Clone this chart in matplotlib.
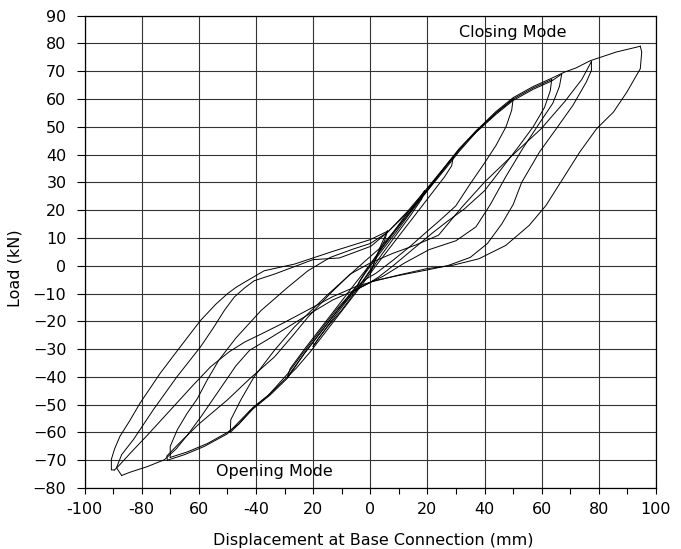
import numpy as np
import matplotlib
matplotlib.use("Agg")
import matplotlib.pyplot as plt

# hysteresis branches, (displacement mm, load kN)
# loading branches: negative peak -> positive peak
up_1 = [(0, -3), (2, 3), (4, 8), (6, 12.5)]
up_2 = [(-5, -9), (-4, -6), (-1, -1), (3, 5), (8, 12), (13, 19), (17, 24), (19, 27)]
up_3 = [(-20, -29), (-18, -26), (-13, -19), (-7, -11), (-2, -3), (3, 4), (9, 12),
        (14, 19), (20, 27), (25, 34), (28, 38), (29, 39)]
up_4 = [(-29, -40), (-28, -37), (-23, -30), (-17, -22), (-11, -14), (-5, -6),
        (0, 0.5), (5, 7.5), (11, 15.5), (17, 23.5), (23, 31.5), (28, 38), (33, 44),
        (38, 49), (44, 55), (50, 60)]
up_5 = [(-49, -60), (-48.8, -55.4), (-45.3, -48.3), (-40.6, -39.9), (-33.5, -30.4),
        (-26.5, -22), (-21.8, -17.3), (-15, -10.5), (-8, -4), (-2, 1.5), (3, 6),
        (8, 12), (14, 19.5), (20, 27.5), (26, 35), (31, 41.5), (37, 48.5),
        (44, 55), (50, 60), (57, 64), (63.5, 67)]
up_6 = [(-70, -69), (-70, -65), (-67.5, -59), (-64, -53), (-60.6, -48),
        (-57, -41), (-53, -34), (-47, -26), (-38.2, -16.1), (-28.8, -7.7),
        (-21.8, -1.8), (-14, 3), (-6, 6), (0, 8), (6, 12), (13, 19), (20, 27),
        (26, 34.5), (31, 41), (37, 48), (44, 54.5), (50, 59.5), (57, 63.5),
        (63.5, 66.5), (67, 69)]
up_7 = [(-71, -70), (-71.2, -68.5), (-66, -63), (-60, -57), (-50, -48.3),
        (-42, -40.5), (-33.5, -32.8), (-27, -25), (-21.8, -18.5), (-14, -10),
        (-7, -3), (0, 1), (8, 4.5), (16, 7.5), (23.9, 11), (32, 21), (40, 30.1),
        (50, 40), (59.8, 49.3), (68, 59), (74, 67), (77.4, 73.5)]
up_8 = [(-87, -75.5), (-88.8, -72.7), (-87, -68), (-82.9, -62.6), (-75.9, -51.8),
        (-67.6, -39.9), (-59.4, -29.2), (-55, -22.5), (-51, -16), (-47.6, -11.3),
        (-44, -8), (-40.6, -5.4), (-33.5, -3), (-20, 2.2), (-10.8, 2.8), (0.2, 7),
        (6, 12), (13, 19.5), (20, 28), (26, 35.5), (31, 42), (37, 48.5),
        (44, 55.5), (50, 60.5), (57, 64.5), (63.5, 67.5), (68, 69.7), (72, 71.2),
        (77, 73.8), (86, 76.9), (94.5, 79)]
up_9 = [(-89.5, -73.5), (-90.6, -73.5), (-90.6, -69.7), (-89.5, -66),
        (-87.6, -61.4), (-84, -55.5), (-80.6, -49.5), (-73.5, -38.7),
        (-66.5, -29.2), (-59.4, -19.7), (-54, -13.8), (-50, -10.1), (-47, -7.8),
        (-44.1, -6), (-37.1, -1.8), (-26.5, 0.6), (-13, 5.2), (0, 9.4), (6, 12.4)]

# unloading branches: positive peak -> negative peak
down_1 = [(6, 12.5), (5, 9), (3, 5), (1, 0), (-1, -3), (-3, -6), (-5, -9)]
down_2 = [(19, 27), (18, 24), (14, 18), (9, 11), (4, 4), (0, -2), (-5, -9),
          (-10, -16), (-15, -22), (-18, -26), (-20, -29)]
down_3 = [(29, 39), (28.5, 36), (26, 32), (20, 24), (14, 16), (8, 8), (2, 0),
          (-3, -7), (-9, -15), (-15, -23), (-21, -31), (-26, -37), (-29, -40)]
down_4 = [(50, 60), (49.5, 56), (47.5, 50), (44, 43.3), (40, 37), (35, 29.5),
          (29.9, 21.5), (24, 16), (20.6, 13), (14, 7), (8, 2), (2, -2.7), (-1, -4.5),
          (-5, -7.5), (-11, -15.5), (-17, -23.5), (-23, -31.5), (-29, -40),
          (-35, -46), (-41, -51), (-46, -57), (-49, -60)]
down_5 = [(63.5, 67), (63, 63), (61, 57), (57, 50), (52, 43), (46, 35), (40, 27),
          (33, 20.5), (27, 16), (22, 12), (15, 6), (8, 0), (3, -4), (0, -6),
          (-5, -8.5), (-11, -15.5), (-17, -23.5), (-23, -31.5), (-29, -40.5),
          (-35, -46.5), (-41, -51.5), (-46, -57), (-50, -60), (-57, -64),
          (-64, -67), (-70, -69)]
down_6 = [(67, 69), (66.2, 64.5), (63.9, 58.5), (59.2, 51.3), (53.3, 42.1),
          (47.4, 32), (42, 22), (37, 14), (30, 9), (20.6, 5.8), (12, 1),
          (4.3, -3.9), (0, -6), (-6, -9), (-12, -16), (-18, -24), (-24, -32),
          (-29, -39), (-36, -47), (-42, -52), (-50, -60.5), (-58, -65),
          (-65, -68), (-71, -70)]
down_7 = [(77.4, 73.5), (77.4, 70.3), (75.6, 66.1), (70.9, 57.7), (65.1, 49.3),
          (59.2, 40.9), (53, 30), (50, 22), (46, 15), (41, 8), (35, 3), (27, 0),
          (20, -1.5), (10, -3.5), (0.8, -5.5), (-3.8, -8.1), (-13.1, -12.3),
          (-24.8, -19.5), (-35, -26), (-42.2, -30.4), (-47, -36), (-53, -45),
          (-59, -54), (-64, -61), (-68, -66), (-72, -69.8), (-78, -72.3),
          (-84, -74.3), (-87, -75.5)]
down_8 = [(94.5, 79), (95, 76.9), (94.5, 70.9), (89.8, 62.5), (85.1, 55.3),
          (79.2, 49.3), (73.3, 40.9), (67.4, 31.3), (61.5, 21.7), (55.6, 14.5),
          (47.4, 7.3), (38, 2.5), (28.6, 0.1), (20, -1), (10.1, -3.3), (0.8, -5.7),
          (-5, -7.5), (-13.1, -11.1), (-22, -16), (-30.6, -20.7), (-38, -24.5),
          (-44, -27.5), (-49.4, -31), (-55.9, -36.4), (-62, -43), (-70, -52),
          (-78, -61), (-84, -67.5), (-88, -72), (-89.5, -73.5)]

branches = [up_1, down_1, up_2, down_2, up_3, down_3, up_4, down_4,
            up_5, down_5, up_6, down_6, up_7, down_7, up_8, down_8, up_9]

xticks = [-100, -80, -60, -40, -20, 0, 20, 40, 60, 80, 100]
xticklabels = ["-100", "-80", "60", "-40", "20", "0", "20", "40", "60", "80", "100"]
yticks = list(range(-80, 91, 10))

plt.rcParams['font.family'] = ['DejaVu Sans']
fs = 11.5

fig = plt.figure(figsize=(6.81, 5.49), dpi=100)
ax = fig.add_axes([84.5 / 681, 1 - 488 / 549, 571.5 / 681, 472.3 / 549])

for br in branches:
    pts = np.array(br, dtype=float)
    ax.plot(pts[:, 0], pts[:, 1], color='black', lw=0.7)

ax.set_xlim(-100, 100)
ax.set_ylim(-80, 90)
ax.set_xticks(xticks)
ax.set_xticklabels(xticklabels)
ax.set_xticks(range(-90, 100, 20), minor=True)
ax.set_yticks(yticks)
ax.tick_params(axis='both', which='both', direction='out', labelsize=fs,
               length=4, width=0.8, color='black')
ax.tick_params(axis='y', length=6, pad=7)
ax.tick_params(axis='x', pad=6)
ax.grid(True, which='major', color='0.2', lw=0.8)
for s in ax.spines.values():
    s.set_linewidth(0.9)

ax.text(49.8, 83.8, "Closing Mode", fontsize=fs, ha='center', va='center')
ax.text(-33.5, -74.2, "Opening Mode", fontsize=fs, ha='center', va='center')

ax.set_xlabel("Displacement at Base Connection (mm)", fontsize=fs)
ax.set_ylabel("Load (kN)", fontsize=fs)
ax.xaxis.set_label_coords(0.505, -0.095)
ax.yaxis.set_label_coords(-0.109, 0.466)

fig.savefig("out.png", dpi=100)
